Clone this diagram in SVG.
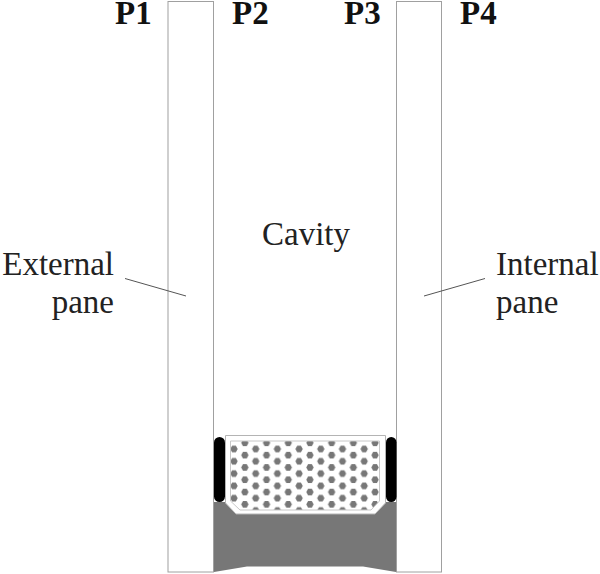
<svg xmlns="http://www.w3.org/2000/svg" width="600" height="574" viewBox="0 0 600 574">
  <defs>
    <path id="hex" d="M-3.700 0L-1.850-3.200H1.850L3.700 0L1.850 3.200H-1.850Z" fill="#777"/>
    <pattern id="dots" x="234" y="449" width="21.700" height="12.300" patternUnits="userSpaceOnUse">
      <use href="#hex" x="0" y="0"/><use href="#hex" x="21.700" y="0"/>
      <use href="#hex" x="0" y="12.300"/><use href="#hex" x="21.700" y="12.300"/>
      <use href="#hex" x="10.850" y="6.150"/>
    </pattern>
  </defs>
  <style>
    .pane{fill:#fff;stroke:#a0a0a0;stroke-width:1}
    .b{font:bold 33px "Liberation Serif",serif;fill:#111}
    .t{font:33px "Liberation Serif",serif;fill:#222}
    .lead{stroke:#555;stroke-width:1;fill:none}
  </style>
  <rect width="600" height="574" fill="#fff"/>
  <g id="external-pane"><rect class="pane" x="168" y="1.500" width="45.500" height="570.500"/></g>
  <g id="internal-pane"><rect class="pane" x="396.500" y="1.500" width="45" height="570.500"/></g>
  <g id="sealant"><path d="M214 502H396V572L363 566.500H247L214 572Z" fill="#777"/></g>
  <g id="seal-left"><rect x="214" y="437" width="11" height="65" rx="5.500" fill="#000"/></g>
  <g id="seal-right"><rect x="386" y="437" width="10.500" height="65" rx="5.200" fill="#000"/></g>
  <g id="spacer">
    <path d="M225.500 435.500H385.500V503L375 514H236L225.500 503Z" fill="#fff" stroke="#b4b4b4"/>
    <path d="M230.500 441H379.500V501L371 510H240L230.500 501Z" fill="url(#dots)" stroke="#c8c8c8"/>
  </g>
  <g id="connectors">
    <path class="lead" d="M125 278.500L186 296"/>
    <path class="lead" d="M485 278.500L424 296"/>
  </g>
  <g id="labels">
    <text class="b" x="115" y="24">P1</text>
    <text class="b" x="232" y="24">P2</text>
    <text class="b" x="344" y="24">P3</text>
    <text class="b" x="460" y="24">P4</text>
    <text class="t" x="306" y="245" text-anchor="middle">Cavity</text>
    <text class="t" x="114" y="275" text-anchor="end">External</text>
    <text class="t" x="114" y="313" text-anchor="end">pane</text>
    <text class="t" x="496" y="275">Internal</text>
    <text class="t" x="496" y="313">pane</text>
  </g>
</svg>
